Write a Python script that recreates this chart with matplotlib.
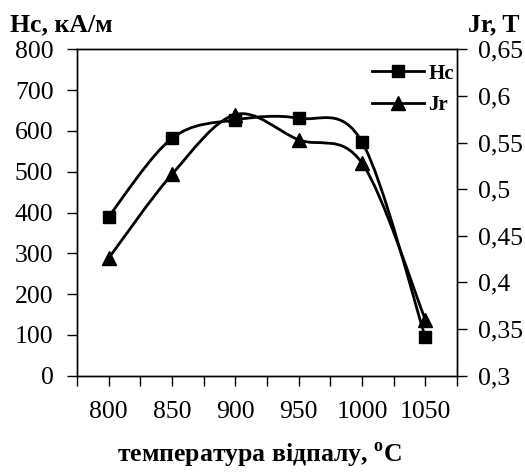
import matplotlib
matplotlib.use('Agg')
import matplotlib.pyplot as plt
from matplotlib.path import Path
from matplotlib.patches import PathPatch
from matplotlib.lines import Line2D

plt.rcParams['font.family'] = ['Liberation Serif', 'DejaVu Serif']
plt.rcParams['mathtext.fontset'] = 'custom'
plt.rcParams['mathtext.rm'] = 'Liberation Serif:bold'
plt.rcParams['mathtext.bf'] = 'Liberation Serif:bold'

# annealing temperature, C
temps = [800, 850, 900, 950, 1000, 1050]
# coercive force Hc, kA/m
hc = [390, 582, 627, 631, 573, 94]
# remanence Jr, T
jr = [0.426, 0.516, 0.580, 0.553, 0.528, 0.360]

jr_ticks = [0.3, 0.35, 0.4, 0.45, 0.5, 0.55, 0.6, 0.65]
jr_labels = ['0,3', '0,35', '0,4', '0,45', '0,5', '0,55', '0,6', '0,65']


def smooth_path(xs, ys):
    # Catmull-Rom style bezier (like Excel "smoothed line")
    n = len(xs)
    verts = [(xs[0], ys[0])]
    codes = [Path.MOVETO]
    for i in range(n - 1):
        x0, y0 = (xs[i - 1], ys[i - 1]) if i > 0 else (xs[i], ys[i])
        x1, y1 = xs[i], ys[i]
        x2, y2 = xs[i + 1], ys[i + 1]
        x3, y3 = (xs[i + 2], ys[i + 2]) if i + 2 < n else (x2, y2)
        c1 = (x1 + (x2 - x0) / 6, y1 + (y2 - y0) / 6)
        c2 = (x2 - (x3 - x1) / 6, y2 - (y3 - y1) / 6)
        verts += [c1, c2, (x2, y2)]
        codes += [Path.CURVE4] * 3
    return Path(verts, codes)


fig = plt.figure(figsize=(5.25, 4.72), dpi=100)
ax = fig.add_axes([77 / 525, 1 - 375.7 / 472, 380 / 525, 326.4 / 472])
ax2 = ax.twinx()

lw = 2
ax.add_patch(PathPatch(smooth_path(temps, hc), fill=False, lw=lw, color='black'))
ax.plot(temps, hc, 's', color='black', markersize=9)
ax2.add_patch(PathPatch(smooth_path(temps, jr), fill=False, lw=lw, color='black'))
ax2.plot(temps, jr, '^', color='black', markersize=9.5)

ax.set_xlim(775, 1075)
ax.set_ylim(0, 800)
ax2.set_ylim(0.3, 0.65)

ax.set_xticks(temps)
ax.set_xticks([775 + 50 * i for i in range(7)], minor=True)
ax.set_yticks(range(0, 801, 100))
ax2.set_yticks(jr_ticks)
ax2.set_yticklabels(jr_labels)

ax.tick_params(axis='x', which='both', direction='out', length=7, width=1, pad=11, labelsize=18.5)
ax.tick_params(axis='y', direction='out', length=7, width=1, pad=10, labelsize=18.5)
ax2.tick_params(axis='y', direction='out', length=7, width=1, pad=8, labelsize=18.5)

for a in (ax, ax2):
    for s in a.spines.values():
        s.set_linewidth(1)
        s.set_color('black')

fig.text(10 / 525, 1 - 31 / 472, 'Hc, кА/м', fontsize=18.5, fontweight='bold', va='baseline', ha='left')
fig.text(519 / 525, 1 - 31 / 472, 'Jr, T', fontsize=18.5, fontweight='bold', va='baseline', ha='right')
fig.text(259 / 525, 1 - 462 / 472, r'температура відпалу, $^{\mathbf{o}}$C', fontsize=18.5,
         fontweight='bold', va='baseline', ha='center')

handles = [Line2D([], [], color='black', lw=lw, marker='s', markersize=9),
           Line2D([], [], color='black', lw=lw, marker='^', markersize=9.5)]
ax2.legend(handles, ['Hc', 'Jr'], loc='center left', bbox_to_anchor=(372 / 525, 1 - 89.5 / 472),
           bbox_transform=fig.transFigure, frameon=False, borderpad=0, borderaxespad=0,
           handlelength=2.5, handletextpad=0.2, labelspacing=0.55,
           prop={'family': 'Liberation Serif', 'weight': 'bold', 'size': 15})

fig.savefig('out.png', dpi=100)
